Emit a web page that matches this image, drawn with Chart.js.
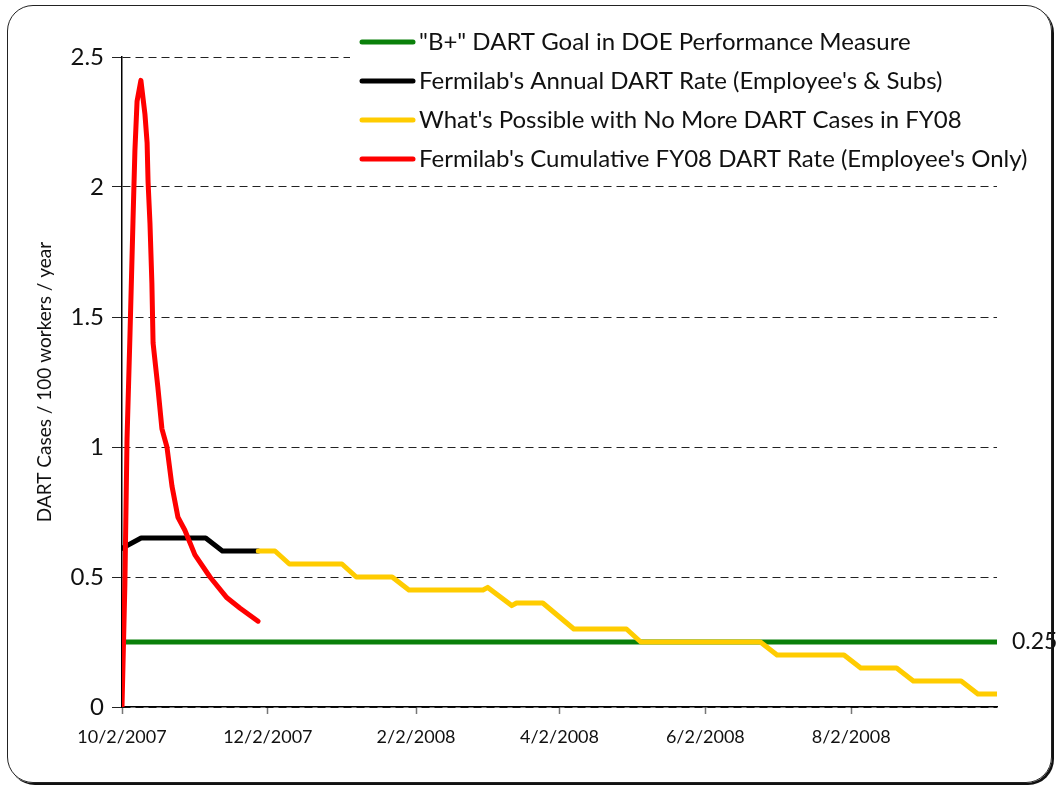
<!DOCTYPE html>
<html>
<head>
<meta charset="utf-8">
<title>Fermilab DART Rate FY08</title>
<script src="https://cdn.jsdelivr.net/npm/chart.js@4.4.1/dist/chart.umd.min.js"></script>
<style>
  html, body { margin: 0; padding: 0; background: #fff; }
  #wrap { position: relative; width: 1057px; height: 788px; overflow: hidden; }
  #frame {
    position: absolute; left: 7px; top: 5px; width: 1045px; height: 778px;
    box-sizing: border-box; border: 1.5px solid #222; border-radius: 26px;
    box-shadow: 2px 2px 0 #111; pointer-events: none;
  }
  canvas { position: absolute; left: 0; top: 0; }
</style>
</head>
<body>
<div id="wrap">
  <canvas id="dartChart" width="1057" height="788"></canvas>
  <div id="frame"></div>
</div>
<script>
// x values are days counted from 10/2/2007
const TICK_DAYS   = [0, 61, 123, 183, 244, 305];
const TICK_LABELS = ['10/2/2007', '12/2/2007', '2/2/2008', '4/2/2008', '6/2/2008', '8/2/2008'];
const X_MAX = 366;
const Y_MAX = 2.5;
const Y_STEP = 0.5;

const SERIES_LABELS = [
  '"B+" DART Goal in DOE Performance Measure',
  "Fermilab's Annual DART Rate (Employee's & Subs)",
  "What's Possible with No More DART Cases in FY08",
  "Fermilab's Cumulative FY08 DART Rate (Employee's Only)"
];

const goalDays = [0, 366];
const goalRate = [0.25, 0.25];

const annualDays = [0, 8, 35, 42, 57];
const annualRate = [0.61, 0.65, 0.65, 0.60, 0.60];

const possibleDays = [57, 64, 70, 92, 98, 113, 120, 151, 153, 163, 165, 176,
                      189, 211, 217, 267, 274, 302, 309, 324, 331, 351, 358, 366];
const possibleRate = [0.60, 0.60, 0.55, 0.55, 0.50, 0.50, 0.45, 0.45, 0.46, 0.39, 0.40, 0.40,
                      0.30, 0.30, 0.25, 0.25, 0.20, 0.20, 0.15, 0.15, 0.10, 0.10, 0.05, 0.05];

const cumDays = [0, 1.2, 2.1, 3.3, 4.6, 5.4, 6.3, 7.9, 9.6, 10.5, 10.9, 11.7, 12.5, 13,
                 15, 16.7, 18.8, 20.9, 23.4, 26.3, 30.5, 36.8, 43.9, 49.4, 56.9];
const cumRate = [0, 0.47, 1.03, 1.42, 1.87, 2.14, 2.33, 2.41, 2.28, 2.17, 2.02, 1.86, 1.63, 1.40,
                 1.23, 1.07, 1.0, 0.85, 0.73, 0.68, 0.585, 0.50, 0.42, 0.38, 0.33];

const COLORS = ['#0a800a', '#000000', '#ffcc00', '#ff0000'];

const pts = (xs, ys) => xs.map((x, i) => ({ x: x, y: ys[i] }));

Chart.defaults.font.family = 'Lato';
Chart.defaults.color = '#111';

// legend box drawn over the top grid line, like the original
const boxLegend = {
  id: 'boxLegend',
  afterDraw(chart) {
    const ctx = chart.ctx;
    ctx.save();
    ctx.fillStyle = '#fff';
    ctx.fillRect(350, 22, 707, 156);
    ctx.font = '24px Lato';
    ctx.textBaseline = 'middle';
    ctx.textAlign = 'left';
    chart.data.datasets.forEach((ds, i) => {
      const y = 42 + i * 39;
      ctx.strokeStyle = ds.borderColor;
      ctx.lineWidth = 5;
      ctx.lineCap = 'round';
      ctx.beginPath();
      ctx.moveTo(362, y);
      ctx.lineTo(413, y);
      ctx.stroke();
      ctx.fillStyle = '#111';
      ctx.fillText(ds.label, 419, y);
    });
    ctx.restore();
  }
};

// value label at the end of the goal line
const endLabel = {
  id: 'endLabel',
  afterDatasetsDraw(chart) {
    const meta = chart.getDatasetMeta(0);
    const last = meta.data[meta.data.length - 1];
    const ctx = chart.ctx;
    ctx.save();
    ctx.font = '23px Lato';
    ctx.fillStyle = '#111';
    ctx.textBaseline = 'middle';
    ctx.fillText(String(goalRate[goalRate.length - 1]), last.x + 15, last.y);
    ctx.restore();
  }
};

const lineDs = (i, data, order) => ({
  label: SERIES_LABELS[i],
  data: data,
  borderColor: COLORS[i],
  backgroundColor: COLORS[i],
  borderWidth: 5,
  borderJoinStyle: 'round',
  borderCapStyle: 'round',
  pointRadius: 0,
  tension: 0,
  order: order
});

new Chart(document.getElementById('dartChart'), {
  type: 'line',
  data: {
    datasets: [
      lineDs(0, pts(goalDays, goalRate), 4),
      lineDs(1, pts(annualDays, annualRate), 3),
      lineDs(2, pts(possibleDays, possibleRate), 2),
      lineDs(3, pts(cumDays, cumRate), 1)
    ]
  },
  options: {
    responsive: false,
    animation: false,
    layout: { padding: { top: 57, right: 60, left: 0, bottom: 0 } },
    plugins: { legend: { display: false }, tooltip: { enabled: false } },
    scales: {
      x: {
        type: 'linear',
        min: 0,
        max: X_MAX,
        afterBuildTicks: s => { s.ticks = TICK_DAYS.map(v => ({ value: v })); },
        afterFit: s => { s.height = 81; },
        ticks: {
          autoSkip: false,
          maxRotation: 0,
          padding: 12,
          font: { size: 18 },
          color: '#111',
          callback: v => TICK_LABELS[TICK_DAYS.indexOf(v)]
        },
        grid: { drawOnChartArea: false, drawTicks: true, tickLength: 7, tickColor: '#777', tickWidth: 1.5 },
        border: { color: '#000', width: 1.5 }
      },
      y: {
        min: 0,
        max: Y_MAX,
        afterFit: s => { s.width = 122; },
        ticks: {
          stepSize: Y_STEP, padding: 8, font: { size: 24 }, color: '#111',
          callback: v => String(v)
        },
        grid: {
          color: '#222', lineWidth: 1,
          tickLength: 10, tickColor: '#222', tickBorderDash: []
        },
        border: { color: '#000', width: 1.5, dash: [8, 5] },
        title: {
          display: true,
          text: 'DART Cases / 100 workers / year',
          font: { size: 19 },
          color: '#111',
          padding: { top: 33, bottom: 0 }
        }
      }
    }
  },
  plugins: [boxLegend, endLabel]
});
</script>
</body>
</html>
